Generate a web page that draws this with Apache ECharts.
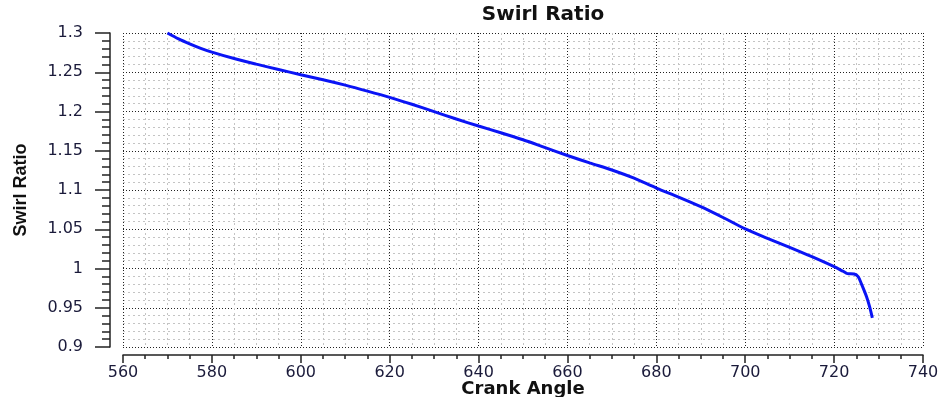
<!DOCTYPE html>
<html>
<head>
<meta charset="utf-8">
<script src="https://cdn.jsdelivr.net/npm/echarts@6/dist/echarts.min.js"></script>
<style>html,body{margin:0;padding:0;background:#fff}#c{width:948px;height:397px}</style>
</head>
<body>
<div id="c"></div>
<script>
const crankAngle = [570, 572.5, 575, 577.5, 580, 585, 590, 595, 600, 605, 610, 615, 620, 625, 630, 635, 640, 645, 650, 655, 660, 665, 670, 675, 680, 685, 690, 695, 700, 705, 710, 715, 720, 722, 723, 724.5, 725.4, 726.1, 727.3, 728, 728.6];
const swirlRatio = [1.300, 1.2925, 1.2862, 1.2805, 1.2757, 1.2675, 1.2603, 1.2535, 1.2468, 1.2405, 1.2336, 1.2260, 1.2180, 1.2092, 1.1998, 1.1904, 1.1815, 1.1730, 1.1640, 1.1540, 1.1440, 1.1345, 1.1255, 1.1150, 1.1025, 1.0910, 1.0788, 1.0650, 1.0505, 1.0385, 1.0270, 1.0150, 1.0023, 0.9965, 0.9935, 0.9930, 0.9896, 0.9810, 0.9640, 0.9510, 0.9370];
const xTicks = [560, 580, 600, 620, 640, 660, 680, 700, 720, 740];
const yTicks = [0.9, 0.95, 1, 1.05, 1.1, 1.15, 1.2, 1.25, 1.3];

const chart = echarts.init(document.getElementById('c'));
const labelColor = '#1a1a3a';
chart.setOption({
  animation: false,
  title: {
    text: 'Swirl Ratio',
    left: 538, top: 0, textAlign: 'center',
    textStyle: {fontFamily: 'DejaVu Sans', fontWeight: 'bold', fontSize: 20, color: '#111'}
  },
  grid: {left: 123, right: 25, top: 33, bottom: 50, containLabel: false, outerBoundsMode: 'none'},
  xAxis: {
    type: 'value', min: xTicks[0], max: xTicks[xTicks.length - 1], interval: 20,
    offset: 8,
    name: 'Crank Angle', nameLocation: 'middle', nameGap: 25, nameMoveOverlap: false,
    nameTextStyle: {fontFamily: 'DejaVu Sans', fontWeight: 'bold', fontSize: 18, color: '#111'},
    axisLine: {show: true, lineStyle: {color: '#222', width: 1.5}},
    axisTick: {show: true, inside: false, length: 8, lineStyle: {color: '#222', width: 1.5}},
    minorTick: {show: true, splitNumber: 4, length: 4, lineStyle: {color: '#222', width: 1.5}},
    axisLabel: {margin: 10, fontFamily: 'DejaVu Sans', fontSize: 16, color: labelColor},
    splitLine: {show: true, lineStyle: {color: '#222', width: 1, type: [1, 2]}},
    minorSplitLine: {show: true, lineStyle: {color: '#c4c4c4', width: 1, type: [2, 3]}}
  },
  yAxis: {
    type: 'value', min: yTicks[0], max: yTicks[yTicks.length - 1], interval: 0.05,
    offset: 13,
    name: 'Swirl Ratio', nameLocation: 'middle', nameGap: 80, nameRotate: 90, nameMoveOverlap: false,
    nameTextStyle: {fontFamily: 'Liberation Sans Narrow, Liberation Sans', fontWeight: 'bold', fontSize: 18, color: '#111'},
    axisLine: {show: true, lineStyle: {color: '#222', width: 1.5}},
    axisTick: {show: true, inside: false, length: 15, lineStyle: {color: '#222', width: 1.5}},
    minorTick: {show: true, splitNumber: 5, length: 8, lineStyle: {color: '#222', width: 1.5}},
    axisLabel: {margin: 27, fontFamily: 'DejaVu Sans', fontSize: 16, color: labelColor,
      formatter: v => String(Math.round(v * 100) / 100)},
    splitLine: {show: true, lineStyle: {color: '#222', width: 1, type: [1, 2]}},
    minorSplitLine: {show: true, lineStyle: {color: '#c4c4c4', width: 1, type: [2, 3]}}
  },
  series: [{
    type: 'line',
    data: crankAngle.map((x, i) => [x, swirlRatio[i]]),
    showSymbol: false, symbol: 'none', smooth: 0.3,
    lineStyle: {color: '#0a14f5', width: 3},
    clip: false
  }]
});
</script>
</body>
</html>
